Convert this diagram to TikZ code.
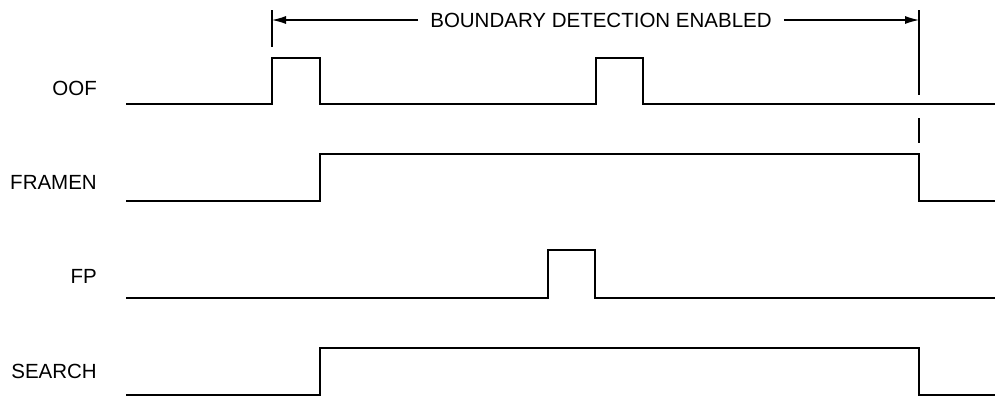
\documentclass[tikz,border=0pt]{standalone}
\usepackage{fontspec}
\setmainfont{Liberation Sans}
\usetikzlibrary{arrows.meta}
\begin{document}
\begin{tikzpicture}[x=1pt,y=-1pt,
  signal/.style={line width=2.4pt, line join=miter, line cap=butt},
  thin line/.style={line width=1.1pt},
  lbl/.style={anchor=east, inner sep=0pt, font=\fontsize{20.5}{24}\selectfont},
  dim/.style={thin line, -{Latex[length=14pt,width=8pt]}}]
\useasboundingbox (0,0) rectangle (997,397);
% labels
\node[lbl] (oof) at (97,88) {OOF};
\node[lbl] (framen) at (97,182) {FRAMEN};
\node[lbl] (fp) at (97,276) {FP};
\node[lbl] (search) at (97,371) {SEARCH};
% signals
\draw[signal] (126,104) -- (272,104) -- (272,58) -- (320,58) -- (320,104) -- (596,104) -- (596,58) -- (643,58) -- (643,104) -- (995,104);
\draw[signal] (126,201) -- (320,201) -- (320,154) -- (919,154) -- (919,201) -- (995,201);
\draw[signal] (126,298) -- (548,298) -- (548,250) -- (595,250) -- (595,298) -- (995,298);
\draw[signal] (126,395) -- (320,395) -- (320,348) -- (919,348) -- (919,395) -- (995,395);
% boundary markers
\coordinate (lt) at (272,10);
\coordinate (lb) at (272,47);
\coordinate (rt) at (919,10);
\coordinate (rb) at (919,95);
\coordinate (rt2) at (919,118);
\coordinate (rb2) at (919,143);
\draw[thin line] (lt) -- (lb);
\draw[thin line] (rt) -- (rb);
\draw[thin line] (rt2) -- (rb2);
\coordinate (la) at (272,20);
\coordinate (ra) at (919,20);
\node[inner sep=0pt, font=\fontsize{20.5}{24}\selectfont] (bde) at (601,20) {BOUNDARY DETECTION ENABLED};
\draw[dim] ([xshift=-12pt]bde.west |- la) -- (la);
\draw[dim] ([xshift=12pt]bde.east |- ra) -- (ra);
\end{tikzpicture}
\end{document}
